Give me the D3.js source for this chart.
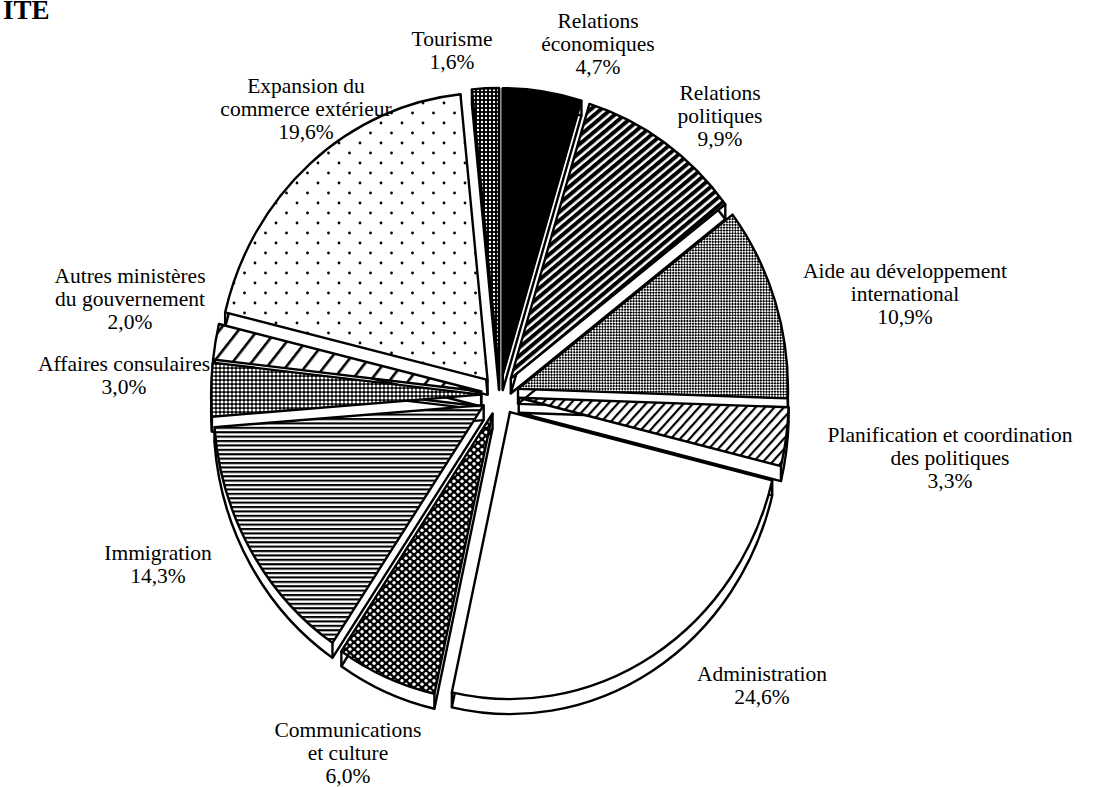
<!DOCTYPE html>
<html><head><meta charset="utf-8">
<script src="https://cdn.jsdelivr.net/npm/d3@7"></script>
<style>
html,body{margin:0;padding:0;background:#fff;}
svg text{font-family:"Liberation Serif","DejaVu Serif",serif;fill:#000;}
</style></head>
<body>
<svg id="chart" width="1093" height="787"></svg>
<script>
// ---- data ----
const categories = ["Relations économiques","Relations politiques","Aide au développement international","Planification et coordination des politiques","Administration","Communications et culture","Immigration","Affaires consulaires","Autres ministères du gouvernement","Expansion du commerce extérieur","Tourisme"];
const values = [4.7, 9.9, 10.9, 3.3, 24.6, 6.0, 14.3, 3.0, 2.0, 19.6, 1.6];
const valueLabels = ["4,7%","9,9%","10,9%","3,3%","24,6%","6,0%","14,3%","3,0%","2,0%","19,6%","1,6%"];
const labelLines = [
  ["Relations","économiques"],
  ["Relations","politiques"],
  ["Aide au développement","international"],
  ["Planification et coordination","des politiques"],
  ["Administration"],
  ["Communications","et culture"],
  ["Immigration"],
  ["Affaires consulaires"],
  ["Autres ministères","du gouvernement"],
  ["Expansion du","commerce extérieur"],
  ["Tourisme"]
];
const fills = ["black","url(#pRelPol)","url(#pAide)","url(#pPlan)","white","url(#pComm)","url(#pImmi)","url(#pAff)","url(#pAutres)","url(#pExp)","url(#pTour)"];
const labelPos = [[598,28],[720,100],[905,278],[950,442],[762,681],[348,737],[158,560],[124,371],[130,283],[306,93],[452,46]];

// ---- layout ----
const svg = d3.select("#chart");
const cx = 500, cy = 395, rx = 270, ry = 287, explode = 0.07, depth = 15;
const xs = d3.scaleLinear().domain([-1,1]).range([cx-rx, cx+rx]);
const ys = d3.scaleLinear().domain([-1,1]).range([cy-ry, cy+ry]);

const defs = svg.append("defs");
function pat(id, w, h, bg, transform){
  const p = defs.append("pattern").attr("id", id).attr("patternUnits","userSpaceOnUse")
    .attr("width", w).attr("height", h);
  if (transform) p.attr("patternTransform", transform);
  p.append("rect").attr("width", w).attr("height", h).attr("fill", bg);
  return p;
}
let p;
p = pat("pRelPol", 6.5, 6.5, "white", "rotate(-40)");
p.append("rect").attr("y",0).attr("width",6.5).attr("height",4).attr("fill","black");
p = pat("pAide", 4, 4, "white", "rotate(45)");
p.append("rect").attr("x",0).attr("y",0).attr("width",2).attr("height",2).attr("fill","black");
p.append("rect").attr("x",2).attr("y",2).attr("width",2).attr("height",2).attr("fill","black");
p = pat("pPlan", 7, 7, "white", "rotate(-48)");
p.append("rect").attr("y",0).attr("width",7).attr("height",2.2).attr("fill","black");
p = pat("pComm", 8, 7, "black");
p.append("circle").attr("cx",2).attr("cy",1.75).attr("r",1.7).attr("fill","white");
p.append("circle").attr("cx",6).attr("cy",5.25).attr("r",1.7).attr("fill","white");
p = pat("pImmi", 10, 4.4, "white");
p.append("rect").attr("y",0).attr("width",10).attr("height",2.1).attr("fill","black");
p = pat("pAff", 4, 4, "black");
p.append("circle").attr("cx",2).attr("cy",2).attr("r",1.6).attr("fill","white");
p = pat("pAutres", 15, 15, "white", "rotate(-52)");
p.append("rect").attr("y",0).attr("width",15).attr("height",2.6).attr("fill","black");
p = pat("pExp", 21, 20, "white");
p.append("circle").attr("cx",3).attr("cy",3).attr("r",1.4).attr("fill","black");
p.append("circle").attr("cx",13.5).attr("cy",13).attr("r",1.4).attr("fill","black");
p = pat("pTour", 4, 4, "black");
p.append("circle").attr("cx",2).attr("cy",2).attr("r",1.2).attr("fill","white");

const pie = d3.pie().sort(null).value(d => d)(values);

function pt(a, r, off){ // unit coordinates -> pixels
  return [xs(off[0] + r*Math.sin(a)), ys(off[1] - r*Math.cos(a))];
}
function wedge(d, dy){
  const m = (d.startAngle + d.endAngle)/2;
  const off = [explode*Math.sin(m), -explode*Math.cos(m)];
  const a = pt(0,0,off), s = pt(d.startAngle,1,off), e = pt(d.endAngle,1,off);
  const large = (d.endAngle - d.startAngle) > Math.PI ? 1 : 0;
  return {path:`M${a[0]},${a[1]+dy}L${s[0]},${s[1]+dy}A${rx},${ry} 0 ${large} 1 ${e[0]},${e[1]+dy}Z`, a, s, e};
}

const gSide = svg.append("g");
const gTop = svg.append("g");
pie.forEach((d,i) => {
  const w = wedge(d, depth);
  gSide.append("path").attr("d", w.path).attr("fill","white").attr("stroke","black").attr("stroke-width",2.4).attr("stroke-linejoin","round");
  [w.a, w.s, w.e].forEach(q => {
    gSide.append("line").attr("x1",q[0]).attr("y1",q[1]).attr("x2",q[0]).attr("y2",q[1]+depth)
      .attr("stroke","black").attr("stroke-width",2.4);
  });
});
pie.forEach((d,i) => {
  const w = wedge(d, 0);
  gTop.append("path").attr("d", w.path).attr("fill", fills[i]).attr("stroke","black").attr("stroke-width",2.4).attr("stroke-linejoin","round");
});

// labels
const gLab = svg.append("g").attr("font-size", 21.5).attr("text-anchor","middle");
categories.forEach((c,i) => {
  const lines = labelLines[i].concat([valueLabels[i]]);
  lines.forEach((l,k) => {
    gLab.append("text").attr("x", labelPos[i][0]).attr("y", labelPos[i][1] + k*23).text(l);
  });
});

svg.append("text").attr("x",3).attr("y",19).attr("font-size",27).attr("font-weight","bold").text("ITE");
</script>
</body></html>
